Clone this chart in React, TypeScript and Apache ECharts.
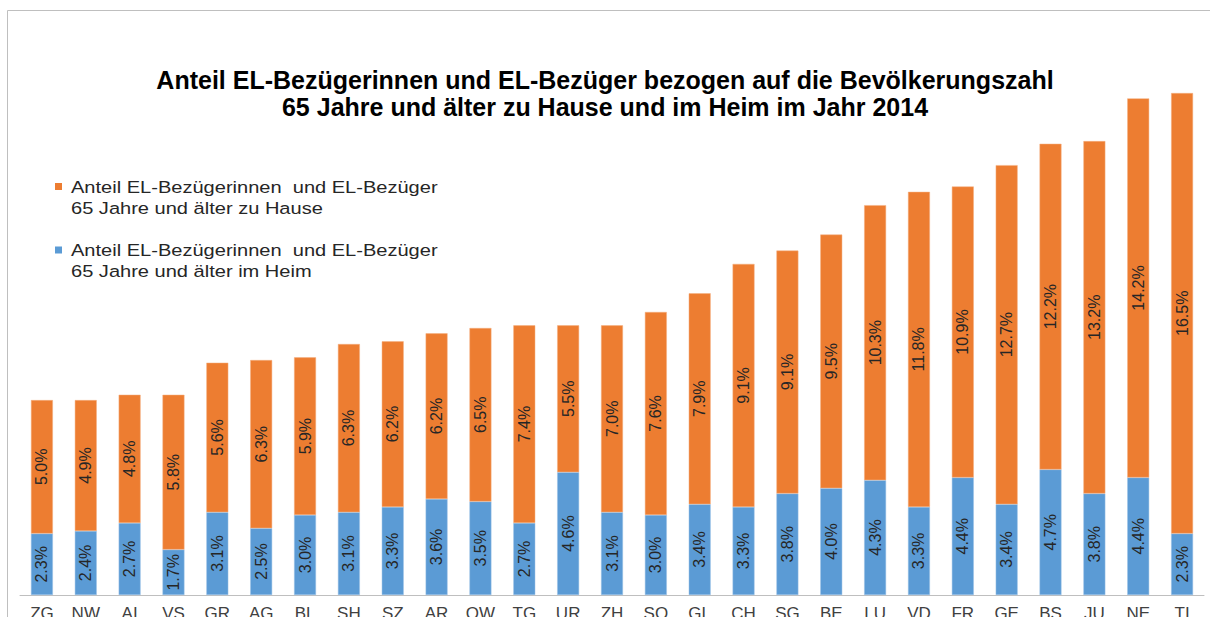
import React, { useEffect, useRef } from "react";
import * as echarts from "echarts";

const categories = ["ZG","NW","AI","VS","GR","AG","BL","SH","SZ","AR","OW","TG","UR","ZH","SO","GL","CH","SG","BE","LU","VD","FR","GE","BS","JU","NE","TI"];
const heim = [2.3,2.4,2.7,1.7,3.1,2.5,3.0,3.1,3.3,3.6,3.5,2.7,4.6,3.1,3.0,3.4,3.3,3.8,4.0,4.3,3.3,4.4,3.4,4.7,3.8,4.4,2.3];
const hause = [5.0,4.9,4.8,5.8,5.6,6.3,5.9,6.3,6.2,6.2,6.5,7.4,5.5,7.0,7.6,7.9,9.1,9.1,9.5,10.3,11.8,10.9,12.7,12.2,13.2,14.2,16.5];
const titleLines = ["Anteil EL-Bezügerinnen und EL-Bezüger bezogen auf die Bevölkerungszahl", "65 Jahre und älter zu Hause und im Heim im Jahr 2014"];
const nameHause = "Anteil EL-Bezügerinnen  und EL-Bezüger\n65 Jahre und älter zu Hause";
const nameHeim = "Anteil EL-Bezügerinnen  und EL-Bezüger\n65 Jahre und älter im Heim";

const ORANGE = "#ED7D31";
const BLUE = "#5B9BD5";
const FONT = "'Liberation Sans', Arial, sans-serif";

export default function App() {
  const ref = useRef<HTMLDivElement>(null);
  useEffect(() => {
    if (!ref.current) return;
    const chart = echarts.init(ref.current, null, { renderer: "svg" });
    const labelCfg = {
      show: true,
      position: "inside",
      rotate: 90,
      formatter: (p: any) => p.value.toFixed(1) + "%",
      color: "#262626",
      fontSize: 16,
      fontFamily: FONT,
    };
    chart.setOption({
      animation: false,
      backgroundColor: "#ffffff",
      title: {
        text: titleLines.join("\n"),
        left: "center",
        top: 66,
        padding: 0,
        textStyle: { fontFamily: FONT, fontWeight: "bold", fontSize: 25, color: "#000", lineHeight: 27 },
      },
      grid: { left: 20, right: 6, top: 61, bottom: 22, containLabel: false, outerBoundsMode: "none" },
      xAxis: {
        type: "category",
        data: categories,
        axisLine: { lineStyle: { color: "#BFBFBF", width: 1 } },
        axisTick: { show: false },
        axisLabel: { color: "#404040", fontSize: 17, fontFamily: FONT, margin: 10, interval: 0 },
      },
      yAxis: { type: "value", min: 0, max: 20, show: false, splitLine: { show: false } },
      series: [
        {
          name: nameHeim,
          type: "bar",
          stack: "total",
          data: heim,
          barWidth: "50%",
          itemStyle: { color: BLUE, borderColor: "#9DC3E6", borderWidth: 0.5 },
          label: labelCfg,
        },
        {
          name: nameHause,
          type: "bar",
          stack: "total",
          data: hause,
          barWidth: "50%",
          itemStyle: { color: ORANGE, borderColor: "#F4B183", borderWidth: 0.5 },
          label: labelCfg,
        },
      ],
      graphic: [
        { type: "rect", shape: { x: 7.5, y: 10.5, width: 1300, height: 700 }, style: { fill: "none", stroke: "#BFBFBF", lineWidth: 1 }, silent: true, z: -1 },
        { type: "rect", shape: { x: 55, y: 183, width: 7, height: 7 }, style: { fill: ORANGE } },
        { type: "text", x: 71, y: 176, scaleX: 1.18, style: { text: nameHause, font: `17px ${FONT}`, fill: "#262626", lineHeight: 21.5 } },
        { type: "rect", shape: { x: 55, y: 246.5, width: 7, height: 7 }, style: { fill: BLUE } },
        { type: "text", x: 71, y: 239, scaleX: 1.18, style: { text: nameHeim, font: `17px ${FONT}`, fill: "#262626", lineHeight: 21.5 } },
      ],
    });
    return () => chart.dispose();
  }, []);
  return <div ref={ref} style={{ position: "absolute", left: 0, top: 0, width: 1210, height: 617 }} />;
}
